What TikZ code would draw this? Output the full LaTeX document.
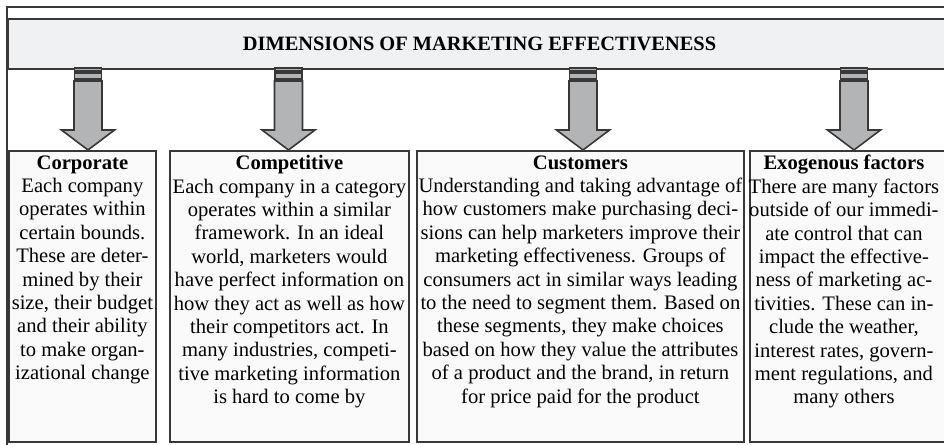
\documentclass[tikz,border=0pt]{standalone}
\usepackage{fontspec}
\setmainfont{Liberation Serif}
\usetikzlibrary{calc}
\definecolor{edgegray}{HTML}{383838}
\definecolor{titlefill}{HTML}{F0F1F2}
\definecolor{cardfill}{HTML}{FAFAFA}
\definecolor{arrowgray}{HTML}{B3B4B6}
\tikzset{frame/.style={edgegray, line width=0.8pt},
  titlebar/.style={draw=edgegray, fill=titlefill, line width=1pt, anchor=north west, font=\bfseries\fontsize{10.2}{12}\selectfont},
  card/.style={draw=edgegray, fill=cardfill, line width=0.9pt, anchor=north west, inner sep=0pt},
  cardtext/.style={anchor=north, align=center, inner sep=2.5pt, font=\fontsize{10.3}{11.7}\selectfont},
  blockarrow/.style={draw=edgegray, fill=arrowgray, line width=0.8pt, line join=miter}}

\begin{document}
\begin{tikzpicture}[x=0.5pt,y=-0.5pt]
  \useasboundingbox (0,0) rectangle (944,445);
  \draw[frame] (7,450) -- (7,7) -- (950,7);
  \node[titlebar, minimum width=471.5pt, minimum height=25pt] (dim) at (7,18) {DIMENSIONS OF MARKETING EFFECTIVENESS};

  \node[card, minimum width=73.5pt, minimum height=145.5pt] (corp) at (8,150) {};
  \node[card, minimum width=119.5pt, minimum height=145.5pt] (comp) at (169,150) {};
  \node[card, minimum width=163.5pt, minimum height=145.5pt] (cust) at (416,150) {};
  \node[card, minimum width=100.5pt, minimum height=145.5pt] (exo) at (749,150) {};

  \node[cardtext] (corptext) at (corp.north) {\textbf{Corporate}\\Each company\\operates within\\certain bounds.\\These are deter-\\mined by their\\size, their budget\\and their ability\\to make organ-\\izational change};
  \node[cardtext] (comptext) at (comp.north) {\textbf{Competitive}\\Each company in a category\\operates within a similar\\framework. In an ideal\\world, marketers would\\have perfect information on\\how they act as well as how\\their competitors act. In\\many industries, competi-\\tive marketing information\\is hard to come by};
  \node[cardtext] (custtext) at (cust.north) {\textbf{Customers}\\Understanding and taking advantage of\\how customers make purchasing deci-\\sions can help marketers improve their\\marketing effectiveness. Groups of\\consumers act in similar ways leading\\to the need to segment them. Based on\\these segments, they make choices\\based on how they value the attributes\\of a product and the brand, in return\\for price paid for the product};
  \node[cardtext, xshift=-3.25pt] (exotext) at (exo.north) {\textbf{Exogenous factors}\\There are many factors\\outside of our immedi-\\ate control that can\\impact the effective-\\ness of marketing ac-\\tivities. These can in-\\clude the weather,\\interest rates, govern-\\ment regulations, and\\many others};

  \foreach \x/\b in {88/corp, 288.5/comp, 583/cust, 854/exo}{
    \begin{scope}[shift={(\x,0 |- \b.north)}]
      \draw[blockarrow] (-13.5,-82) rectangle (13.5,-79);
      \draw[blockarrow] (-13.5,-77) rectangle (13.5,-71);
      \draw[blockarrow] (-14,-69) -- (14,-69) -- (14,-20) -- (26.5,-20) -- (0,0) -- (-26.5,-20) -- (-14,-20) -- cycle;
    \end{scope}
  }
\end{tikzpicture}
\end{document}
